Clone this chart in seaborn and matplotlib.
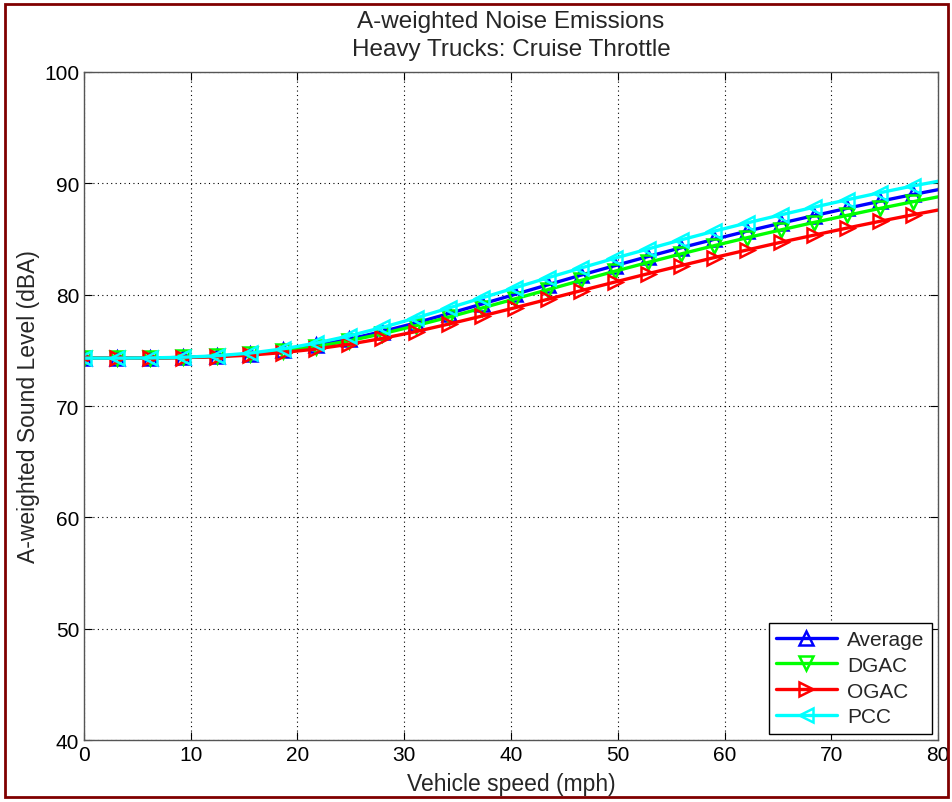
import numpy as np
import pandas as pd
import matplotlib
matplotlib.use("Agg")
import matplotlib.pyplot as plt
import seaborn as sns
from matplotlib.patches import Rectangle

# speed at each computed point (mph), 5 km/h steps
speed = [0.0, 3.107, 6.214, 9.321, 12.427, 15.534, 18.641, 21.748, 24.855,
         27.962, 31.069, 34.175, 37.282, 40.389, 43.496, 46.603, 49.710,
         52.817, 55.923, 59.030, 62.137, 65.244, 68.351, 71.458, 74.565,
         77.671, 80.778]

average = [74.30, 74.30, 74.31, 74.36, 74.47, 74.67, 74.99, 75.44, 76.01,
           76.69, 77.46, 78.30, 79.16, 80.03, 80.90, 81.77, 82.60, 83.42,
           84.21, 84.97, 85.71, 86.41, 87.09, 87.75, 88.39, 89.00, 89.57]
dgac = [74.30, 74.30, 74.31, 74.36, 74.46, 74.64, 74.93, 75.33, 75.86,
        76.49, 77.21, 77.98, 78.80, 79.63, 80.46, 81.29, 82.10, 82.89,
        83.66, 84.40, 85.12, 85.81, 86.48, 87.12, 87.75, 88.35, 88.93]
ogac = [74.30, 74.30, 74.31, 74.35, 74.42, 74.57, 74.80, 75.12, 75.55,
        76.07, 76.68, 77.36, 78.08, 78.83, 79.60, 80.37, 81.13, 81.88,
        82.61, 83.33, 84.02, 84.70, 85.34, 85.98, 86.59, 87.18, 87.74]
pcc = [74.30, 74.30, 74.32, 74.38, 74.51, 74.75, 75.13, 75.65, 76.30,
       77.06, 77.90, 78.80, 79.71, 80.62, 81.53, 82.41, 83.27, 84.10,
       84.92, 85.70, 86.45, 87.16, 87.85, 88.52, 89.16, 89.77, 90.32]

surfaces = ["Average", "DGAC", "OGAC", "PCC"]
colors = ["#0000ff", "#00ff00", "#ff0000", "#00ffff"]
markers = ["^", "v", ">", "<"]

df = pd.DataFrame({"speed": speed, "Average": average, "DGAC": dgac,
                   "OGAC": ogac, "PCC": pcc})

sns.set_style("ticks", {"xtick.direction": "in", "ytick.direction": "in"})
plt.rcParams["font.family"] = ["Liberation Sans", "DejaVu Sans"]

fig = plt.figure(figsize=(9.53, 8.03), dpi=100)
ax = fig.add_axes([0.0881, 0.0772, 0.8962, 0.8319])

for name, col, mk in zip(surfaces, colors, markers):
    sns.lineplot(data=df, x="speed", y=name, ax=ax, color=col, marker=mk,
                 markersize=10.5, markerfacecolor="none", markeredgecolor=col,
                 markeredgewidth=1.8, linewidth=2.4, label=name)

ax.set_xlim(0, 80)
ax.set_ylim(40, 100)
ax.set_xticks(range(0, 81, 10))
ax.set_yticks(range(40, 101, 10))
ax.tick_params(labelsize=15, length=6, width=0.8, top=True, right=True,
               colors="black")
ax.grid(True, linestyle=(0, (1, 3)), color="black", linewidth=0.8)
for sp in ax.spines.values():
    sp.set_visible(True)
    sp.set_color("#555555")
    sp.set_linewidth(1.0)

ax.set_xlabel("Vehicle speed (mph)", fontsize=16.5, labelpad=6)
ax.set_ylabel("A-weighted Sound Level (dBA)", fontsize=16.5, labelpad=3)
ax.set_title("A-weighted Noise Emissions\nHeavy Trucks: Cruise Throttle",
             fontsize=17.5, pad=12, linespacing=1.35)

leg = ax.legend(loc="lower right", fontsize=15, frameon=True, fancybox=False,
                edgecolor="black", framealpha=1, handlelength=2.9,
                handletextpad=0.5, borderaxespad=0.3, labelspacing=0.33,
                borderpad=0.35)
leg.get_frame().set_linewidth(1.0)

fig.patches.append(Rectangle((0.005, 0.006), 0.99, 0.988, transform=fig.transFigure,
                             fill=False, edgecolor="#800000", linewidth=2))

fig.savefig("out.png", dpi=100)
